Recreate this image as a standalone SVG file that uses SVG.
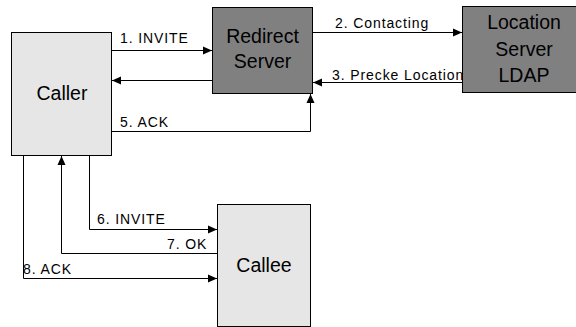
<svg xmlns="http://www.w3.org/2000/svg" width="576" height="327" viewBox="0 0 576 327">
<style>
.light{fill:#e6e6e6;stroke:#000;stroke-width:1}
.dark{fill:#808080;stroke:#000;stroke-width:1}
.big{font-family:"Liberation Sans",Arial,sans-serif;font-size:19.5px;fill:#000;text-anchor:middle}
.lbl{font-family:"Liberation Sans",Arial,sans-serif;font-size:14px;letter-spacing:0.9px;fill:#000}
.c{fill:none;stroke:#000;stroke-width:1}
</style>
<defs>
<marker id="ah" markerWidth="10" markerHeight="10" refX="9" refY="5" orient="auto" markerUnits="userSpaceOnUse">
<path d="M0,1 L9,5 L0,9 Z" fill="#000"/>
</marker>
</defs>
<rect width="576" height="327" fill="#fff"/>
<g id="caller">
<rect class="light" x="11.5" y="32.5" width="100" height="123"/>
<text class="big" x="62" y="100">Caller</text>
</g>
<g id="redirect">
<rect class="dark" x="212.5" y="7.5" width="100" height="86"/>
<text class="big" x="262.5" y="43">Redirect</text>
<text class="big" x="262.5" y="68">Server</text>
</g>
<g id="location">
<rect class="dark" x="462.5" y="6.5" width="124" height="86"/>
<text class="big" x="524" y="29">Location</text>
<text class="big" x="524" y="56">Server</text>
<text class="big" x="524" y="82">LDAP</text>
</g>
<g id="callee">
<rect class="light" x="217.5" y="204.5" width="93" height="122"/>
<text class="big" x="264" y="272">Callee</text>
</g>
<g id="connectors">
<path class="c" d="M112,50.5 H212" marker-end="url(#ah)"/>
<path class="c" d="M212,80.5 H112" marker-end="url(#ah)"/>
<path class="c" d="M313,32.5 H462" marker-end="url(#ah)"/>
<path class="c" d="M462,82.5 H313" marker-end="url(#ah)"/>
<path class="c" d="M112,131.5 H310.5 V94" marker-end="url(#ah)"/>
<path class="c" d="M89.5,156 V229.5 H217" marker-end="url(#ah)"/>
<path class="c" d="M217,253.5 H61.5 V156" marker-end="url(#ah)"/>
<path class="c" d="M23.5,156 V278.5 H217" marker-end="url(#ah)"/>
<text class="lbl" x="120" y="43">1. INVITE</text>
<text class="lbl" x="335" y="28">2. Contacting</text>
<text class="lbl" x="332" y="80">3. Precke Location</text>
<text class="lbl" x="120" y="127">5. ACK</text>
<text class="lbl" x="97" y="224">6. INVITE</text>
<text class="lbl" x="167" y="249">7. OK</text>
<text class="lbl" x="23" y="274">8. ACK</text>
</g>
</svg>
